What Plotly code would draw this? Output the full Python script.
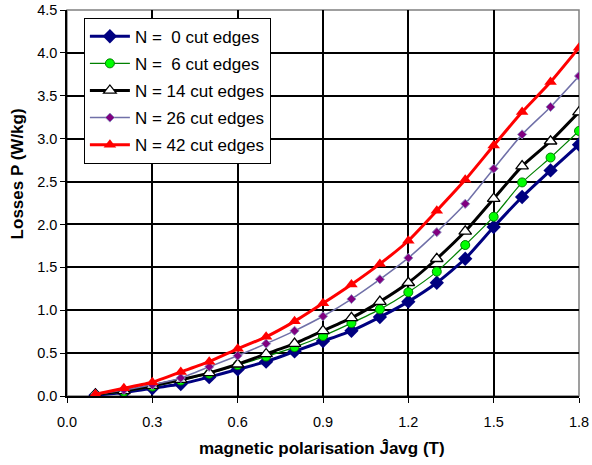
import plotly.graph_objects as go

J = [0.1, 0.2, 0.3, 0.4, 0.5, 0.6, 0.7, 0.8, 0.9, 1.0, 1.1, 1.2, 1.3, 1.4, 1.5, 1.6, 1.7, 1.8]
n0 = [0.01, 0.04, 0.09, 0.14, 0.22, 0.31, 0.40, 0.52, 0.64, 0.76, 0.92, 1.10, 1.32, 1.60, 1.97, 2.32, 2.63, 2.93]
n6 = [0.01, 0.05, 0.11, 0.18, 0.26, 0.36, 0.46, 0.57, 0.70, 0.85, 1.01, 1.21, 1.45, 1.76, 2.09, 2.49, 2.78, 3.09]
n14 = [0.02, 0.06, 0.12, 0.19, 0.27, 0.37, 0.49, 0.61, 0.76, 0.91, 1.10, 1.32, 1.60, 1.92, 2.30, 2.68, 2.97, 3.31]
n26 = [0.02, 0.07, 0.13, 0.21, 0.34, 0.47, 0.61, 0.76, 0.93, 1.13, 1.36, 1.61, 1.91, 2.24, 2.65, 3.05, 3.37, 3.73]
n42 = [0.02, 0.09, 0.16, 0.28, 0.40, 0.55, 0.69, 0.87, 1.08, 1.30, 1.54, 1.81, 2.16, 2.52, 2.92, 3.31, 3.66, 4.06]
names = ["N =\u00a0\u00a00 cut edges", "N =\u00a0\u00a06 cut edges", "N = 14 cut edges", "N = 26 cut edges", "N = 42 cut edges"]
x_ticks = [0, 0.3, 0.6, 0.9, 1.2, 1.5, 1.8]
x_labels = ["0.0", "0.3", "0.6", "0.9", "1.2", "1.5", "1.8"]
y_ticks = [0, 0.5, 1, 1.5, 2, 2.5, 3, 3.5, 4, 4.5]
y_labels = ["0.0", "0.5", "1.0", "1.5", "2.0", "2.5", "3.0", "3.5", "4.0", "4.5"]
x_title = "magnetic polarisation Ĵavg (T)"
y_title = "Losses P (W/kg)"

fig = go.Figure()
fig.add_trace(go.Scatter(x=J, y=n0, name=names[0], mode="lines+markers", legendgroup="g0",
                         line=dict(color="#000080", width=3, shape="spline", smoothing=0.5),
                         marker=dict(symbol="diamond", size=11, color="#000080")))
fig.add_trace(go.Scatter(x=J, y=n6, name=names[1], mode="lines+markers", legendgroup="g1",
                         line=dict(color="#008000", width=1.2, shape="spline", smoothing=0.5),
                         marker=dict(symbol="circle", size=9, color="#00ff00", line=dict(color="#008000", width=1))))
fig.add_trace(go.Scatter(x=J, y=n14, name=names[2], mode="lines+markers", legendgroup="g2",
                         line=dict(color="#000000", width=3, shape="spline", smoothing=0.5),
                         marker=dict(symbol="triangle-up", size=11, color="#ffffff", line=dict(color="#000000", width=1.3))))
fig.add_trace(go.Scatter(x=J, y=n26, name=names[3], mode="lines+markers", legendgroup="g3",
                         line=dict(color="#7070a8", width=1.5, shape="spline", smoothing=0.5),
                         marker=dict(symbol="diamond", size=7, color="#800080", line=dict(color="#9090c0", width=1))))
fig.add_trace(go.Scatter(x=J, y=n42, name=names[4], mode="lines+markers", legendgroup="g4",
                         line=dict(color="#ff0000", width=3, shape="spline", smoothing=0.5),
                         marker=dict(symbol="triangle-up", size=11, color="#ff0000")))

fig.add_shape(type="rect", xref="paper", yref="paper", x0=0, y0=0, x1=1, y1=1,
              line=dict(color="#808080", width=1.5), layer="below")

fig.add_annotation(text="<b>" + x_title + "</b>", xref="paper", yref="paper", x=0.499, y=-0.135,
                   xanchor="center", yanchor="middle", showarrow=False, font=dict(size=17))
fig.add_annotation(text="<b>" + y_title + "</b>", xref="paper", yref="paper", x=-0.097, y=0.575,
                   xanchor="center", yanchor="middle", showarrow=False, textangle=-90, font=dict(size=17))

fig.update_layout(
    width=592, height=465,
    margin=dict(l=67, r=13, t=10, b=69),
    paper_bgcolor="white", plot_bgcolor="white",
    font=dict(family="Liberation Sans, Arial, sans-serif", size=14, color="black"),
    showlegend=True,
    legend=dict(x=0.033, y=0.98, xanchor="left", yanchor="top",
                bgcolor="white", bordercolor="black", borderwidth=1,
                font=dict(size=17), tracegroupgap=2, itemwidth=40),
    xaxis=dict(range=[0, 1.8], tickvals=x_ticks, ticktext=x_labels, automargin=False,
               showgrid=True, gridcolor="black", gridwidth=1.5,
               showline=True, linecolor="black", linewidth=1.5,
               ticks="outside", ticklen=5, tickcolor="black", zeroline=False,
               ticklabelstandoff=7, tickfont=dict(size=14.5)),
    yaxis=dict(range=[0, 4.5], tickvals=y_ticks, ticktext=y_labels, automargin=False,
               showgrid=True, gridcolor="black", gridwidth=1.5,
               showline=True, linecolor="black", linewidth=1.5,
               ticks="outside", ticklen=5, tickcolor="black", zeroline=False,
               tickfont=dict(size=14.5)),
)

fig.write_html("out.html")
